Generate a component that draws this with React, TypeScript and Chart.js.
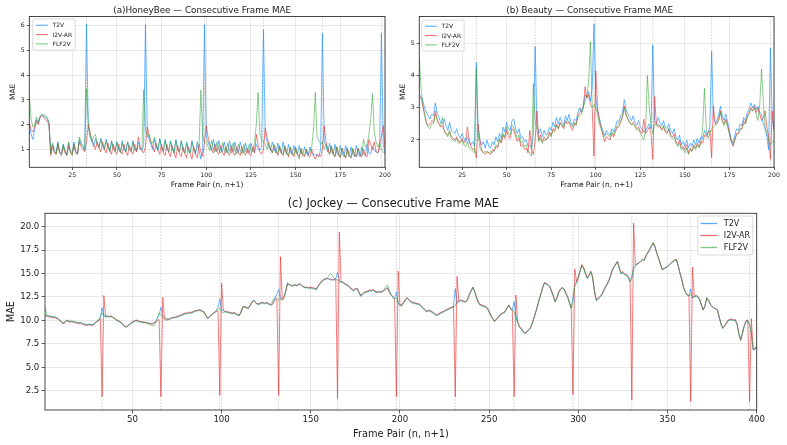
import React, { useEffect, useRef } from "react";
import { Chart, registerables } from "chart.js";

Chart.register(...registerables);

const FONT = '"DejaVu Sans", "Liberation Sans", sans-serif';
const TEXT = "#1a1a1a";

const seriesNames = ["T2V", "I2V-AR", "FLF2V"];
const seriesColors = ["rgba(30,144,255,0.75)", "rgba(235,50,50,0.7)", "rgba(44,160,44,0.6)"];

// ---- (a) HoneyBee: consecutive frame MAE, frame pairs 1..200 ----
const honeybeeT2V = [
  2.0, 1.6, 1.4, 1.8, 2.2, 2.05, 2.3, 2.4, 2.35, 2.3,
  2.25, 2.05, 0.85, 1.25, 0.95, 0.85, 1.3, 0.9, 0.85, 1.2,
  0.95, 0.8, 1.25, 0.95, 0.85, 1.3, 0.9, 0.85, 1.4, 1.2,
  1.1, 0.95, 6.08, 1.9, 1.5, 1.35, 1.1, 1.45, 1.2, 1.05,
  1.45, 1.15, 1.0, 1.4, 1.1, 0.95, 1.35, 1.05, 0.95, 1.3,
  1.0, 0.9, 1.35, 1.05, 0.9, 1.3, 1.0, 0.95, 1.35, 1.0,
  0.9, 1.3, 1.05, 0.95, 1.2, 6.05, 1.7, 1.4, 1.2, 1.0,
  1.4, 1.1, 0.95, 1.45, 1.05, 0.9, 1.4, 1.0, 0.9, 1.35,
  1.05, 0.85, 1.4, 1.0, 0.9, 1.35, 1.0, 0.85, 1.3, 0.95,
  0.85, 1.35, 1.0, 0.8, 1.3, 0.95, 0.6, 1.0, 6.05, 1.5,
  1.3, 1.1, 0.95, 1.4, 1.05, 0.9, 1.35, 1.0, 0.9, 1.3,
  1.0, 0.85, 1.35, 1.0, 0.9, 1.3, 0.95, 0.85, 1.3, 1.0,
  0.85, 1.25, 0.95, 0.85, 1.25, 0.95, 0.9, 1.2, 1.0, 0.95,
  1.1, 5.85, 1.6, 1.3, 1.1, 0.95, 1.3, 1.0, 0.85, 1.25,
  0.95, 0.85, 1.3, 0.95, 0.8, 1.2, 0.9, 0.8, 1.15, 0.9,
  0.8, 1.15, 0.85, 0.8, 1.1, 0.85, 0.75, 1.1, 0.85, 0.75,
  0.8, 0.75, 0.7, 1.0, 5.7, 1.3, 1.15, 0.9, 1.25, 0.9,
  0.8, 1.2, 0.85, 0.75, 1.15, 0.85, 0.7, 1.15, 0.85, 0.7,
  1.1, 0.8, 0.7, 1.15, 0.8, 0.7, 1.1, 0.8, 0.75, 1.2,
  0.85, 0.8, 1.1, 0.95, 0.9, 0.85, 1.0, 5.7, 1.2, 0.85,
];
const honeybeeI2VAR = [
  2.05, 1.8, 1.7, 1.9, 2.15, 2.0, 2.3, 2.35, 2.3, 2.2,
  2.15, 2.0, 0.75, 1.15, 0.85, 0.8, 1.2, 0.85, 0.75, 1.1,
  0.85, 0.75, 1.15, 0.85, 0.8, 1.2, 0.85, 0.8, 1.3, 1.1,
  1.0, 0.9, 1.3, 2.0, 1.7, 1.4, 1.2, 1.0, 1.3, 1.05,
  0.9, 1.3, 1.0, 0.85, 1.25, 0.95, 0.8, 1.2, 0.9, 0.8,
  1.2, 0.9, 0.8, 1.2, 0.9, 0.75, 1.15, 0.9, 0.8, 1.2,
  0.9, 1.5, 1.1, 0.95, 0.85, 1.1, 1.9, 1.6, 1.3, 1.1,
  0.9, 1.25, 0.95, 0.8, 1.2, 0.85, 0.75, 1.2, 0.85, 0.7,
  1.15, 0.85, 0.65, 1.15, 0.8, 0.7, 1.1, 0.8, 0.65, 1.1,
  0.8, 0.6, 1.1, 0.8, 0.65, 1.2, 0.9, 0.7, 1.3, 1.95,
  1.5, 1.2, 1.0, 0.85, 1.2, 0.9, 0.8, 1.15, 0.85, 0.75,
  1.1, 0.85, 0.75, 1.15, 0.85, 0.75, 1.1, 0.85, 0.75, 1.1,
  0.85, 0.75, 1.05, 0.8, 0.75, 1.1, 0.85, 1.6, 1.2, 0.9,
  0.8, 1.0, 1.85, 1.5, 1.2, 1.0, 0.85, 1.15, 0.9, 0.75,
  1.1, 0.85, 0.75, 1.1, 0.85, 0.7, 1.05, 0.8, 0.7, 1.05,
  0.8, 0.7, 1.0, 0.75, 0.7, 1.0, 0.75, 0.7, 1.0, 0.75,
  0.6, 0.8, 0.75, 0.7, 1.0, 1.95, 1.3, 1.05, 0.8, 1.1,
  0.8, 0.7, 1.1, 0.8, 0.65, 1.05, 0.8, 0.65, 1.05, 0.75,
  0.65, 1.0, 0.75, 0.7, 1.05, 0.75, 0.7, 1.0, 0.75, 0.7,
  1.4, 1.2, 1.0, 1.3, 0.9, 0.85, 1.2, 1.5, 1.95, 1.05,
];
const honeybeeFLF2V = [
  3.2, 2.2, 1.9, 2.0, 2.3, 2.1, 2.35, 2.4, 2.4, 2.35,
  2.3, 2.1, 0.8, 1.2, 0.9, 0.8, 1.25, 0.85, 0.8, 1.2,
  0.9, 0.75, 1.3, 0.9, 0.75, 1.2, 0.85, 0.8, 1.5, 1.3,
  1.15, 1.0, 3.45, 2.1, 1.6, 1.3, 1.5, 1.6, 1.25, 1.1,
  1.4, 1.2, 1.0, 1.35, 1.1, 0.9, 1.3, 1.05, 0.9, 1.3,
  1.05, 0.85, 1.25, 1.0, 0.9, 1.3, 1.0, 0.9, 1.3, 1.0,
  0.95, 1.1, 1.0, 1.05, 3.4, 1.8, 1.5, 1.6, 1.3, 1.25,
  1.5, 1.2, 1.0, 1.4, 1.1, 0.95, 1.35, 1.05, 0.9, 1.3,
  1.0, 0.85, 1.35, 1.0, 0.9, 1.3, 1.0, 0.85, 1.25, 0.95,
  0.85, 1.3, 1.0, 0.9, 1.1, 1.2, 3.4, 1.5, 1.3, 1.3,
  1.1, 0.95, 1.35, 1.05, 0.9, 1.3, 1.0, 0.85, 1.25, 1.0,
  0.85, 1.25, 0.95, 0.85, 1.25, 0.95, 0.8, 1.2, 0.95, 0.8,
  1.2, 0.9, 0.85, 1.2, 0.95, 0.9, 1.3, 2.0, 3.3, 1.6,
  1.4, 1.3, 1.2, 1.0, 1.25, 1.0, 0.85, 1.2, 0.95, 0.8,
  1.15, 0.9, 0.8, 1.15, 0.85, 0.75, 1.1, 0.85, 0.75, 1.1,
  0.8, 0.6, 1.05, 0.8, 0.75, 1.0, 0.8, 0.9, 1.1, 1.8,
  3.3, 1.5, 1.35, 1.2, 1.3, 1.0, 1.2, 0.9, 0.8, 1.15,
  0.85, 0.7, 1.1, 0.8, 0.7, 1.05, 0.8, 0.65, 1.0, 0.75,
  0.65, 1.05, 0.8, 0.7, 1.0, 0.8, 0.75, 1.4, 1.1, 1.2,
  1.6, 2.2, 3.25, 1.7, 1.3, 1.1, 1.25, 1.0, 0.9, 0.8,
];

// ---- (b) Beauty: consecutive frame MAE, frame pairs 1..200 ----
const beautyT2V = [
  3.4, 3.35, 3.2, 3.0, 2.85, 2.75, 2.65, 2.8, 2.75, 3.15,
  2.85, 2.7, 2.55, 2.5, 2.65, 2.45, 2.3, 2.55, 2.3, 2.25,
  2.2, 2.35, 2.15, 2.05, 2.2, 2.05, 1.95, 2.1, 1.9, 1.85,
  1.95, 1.8, 4.4, 2.3, 2.0, 1.85, 1.95, 1.75, 2.0, 1.8,
  1.75, 1.95, 1.85, 2.1, 1.95, 2.2, 2.05, 2.4, 2.25, 2.55,
  2.35, 2.3, 2.6, 2.65, 2.35, 2.2, 2.35, 2.05, 2.1, 1.95,
  2.0, 1.8, 1.85, 1.75, 2.2, 4.9, 2.5, 2.2, 2.35, 2.1,
  2.3, 2.15, 2.2, 2.4, 2.3, 2.55, 2.4, 2.7, 2.5, 2.7,
  2.55, 2.45, 2.75, 2.6, 2.8, 2.55, 2.45, 2.65, 2.6, 2.85,
  3.0, 2.85, 3.05, 3.4, 3.3, 3.5, 3.2, 3.6, 5.6, 3.3,
  2.9, 2.7, 2.45, 2.3, 2.15, 2.3, 2.2, 2.15, 2.35, 2.25,
  2.4, 2.6, 2.55, 2.75, 2.85, 3.25, 2.95, 2.8, 2.7, 2.6,
  2.75, 2.55, 2.45, 2.6, 2.4, 2.35, 2.25, 2.3, 2.4, 2.5,
  2.35, 4.95, 2.6, 2.5, 2.7, 2.55, 2.45, 2.6, 2.4, 2.35,
  2.5, 2.3, 2.2, 2.35, 2.1, 2.0, 2.15, 1.85, 1.95, 1.8,
  2.0, 1.75, 1.9, 1.8, 2.0, 1.85, 2.05, 1.9, 2.1, 2.05,
  2.3, 2.15, 2.25, 2.4, 4.75, 2.7, 2.55, 2.6, 2.8, 3.05,
  2.75, 2.6, 2.8, 2.55, 2.3, 2.0, 1.9, 2.15, 2.35, 2.3,
  2.5, 2.45, 2.7, 2.6, 2.85, 2.95, 3.15, 3.0, 3.1, 2.95,
  3.05, 2.85, 2.8, 2.5, 2.35, 2.1, 1.7, 4.85, 2.6, 2.35,
];
const beautyI2VAR = [
  3.35, 3.3, 3.05, 2.8, 2.55, 2.45, 2.5, 2.6, 2.55, 2.9,
  2.65, 2.5, 2.4, 2.45, 2.3, 2.2, 2.15, 2.25, 2.1, 2.05,
  2.0, 2.1, 1.95, 1.95, 2.05, 1.9, 2.0, 2.4, 2.0, 1.8,
  1.7, 1.75, 1.45, 2.5, 2.0, 1.7, 1.6, 1.55, 1.65, 1.6,
  1.55, 1.7, 1.65, 1.8, 1.75, 2.0, 1.9, 2.15, 2.05, 2.3,
  2.1, 2.05, 2.35, 2.3, 2.1, 1.95, 2.05, 1.8, 1.85, 1.7,
  1.75, 1.6, 2.3, 1.7, 1.55, 2.0, 2.9, 2.0, 2.15, 1.95,
  2.1, 2.0, 2.05, 2.25, 2.15, 2.35, 2.3, 2.5, 2.35, 2.55,
  2.45, 2.35, 2.6, 2.5, 2.55, 2.4, 2.3, 2.5, 2.5, 2.75,
  2.85, 2.95, 3.0, 3.65, 3.3, 3.4, 3.1, 3.0, 1.5, 4.15,
  3.0, 2.6, 2.4, 2.15, 1.95, 2.1, 2.05, 2.0, 2.2, 2.1,
  2.25, 2.4, 2.4, 2.55, 2.7, 3.05, 2.8, 2.65, 2.55, 2.5,
  2.55, 2.45, 2.35, 2.4, 2.25, 2.2, 2.65, 2.2, 2.3, 2.4,
  2.2, 1.4, 3.35, 2.5, 2.4, 2.45, 2.3, 2.4, 2.25, 2.2,
  2.35, 2.15, 2.1, 2.2, 1.95, 1.85, 2.0, 1.75, 1.8, 1.7,
  1.85, 1.6, 1.75, 1.65, 1.85, 1.75, 1.9, 1.8, 1.95, 1.9,
  2.15, 2.1, 2.2, 2.3, 1.45, 3.05, 2.5, 2.5, 2.65, 2.9,
  2.6, 2.5, 2.65, 2.45, 2.2, 1.95, 1.8, 2.0, 2.2, 2.2,
  2.35, 2.35, 2.6, 2.5, 2.75, 2.85, 3.0, 2.9, 3.05, 2.85,
  3.0, 2.8, 2.6, 2.7, 2.9, 2.4, 2.1, 1.4, 2.9, 2.3,
];
const beautyFLF2V = [
  4.55, 3.6, 3.1, 2.75, 2.5, 2.4, 2.35, 2.5, 2.5, 2.8,
  2.6, 2.5, 2.45, 2.7, 2.25, 2.2, 2.1, 2.3, 2.05, 2.0,
  1.95, 2.05, 1.9, 1.9, 2.0, 1.85, 1.8, 1.95, 1.75, 1.7,
  1.65, 1.6, 4.2, 2.2, 1.75, 1.65, 1.6, 1.65, 1.6, 1.6,
  1.65, 1.6, 1.7, 1.85, 1.8, 2.05, 1.95, 2.2, 2.1, 2.4,
  2.2, 2.15, 2.45, 2.4, 2.2, 2.05, 2.15, 1.9, 1.95, 1.8,
  1.85, 1.65, 1.6, 1.5, 3.75, 2.6, 2.3, 1.95, 2.05, 1.9,
  2.0, 2.0, 2.05, 2.2, 2.1, 2.3, 2.25, 2.45, 2.35, 2.5,
  2.45, 2.4, 2.55, 2.55, 2.6, 2.45, 2.4, 2.55, 2.45, 2.7,
  2.75, 2.8, 3.0, 3.2, 3.35, 3.8, 5.05, 3.0, 3.1, 3.0,
  2.8, 2.5, 2.35, 2.2, 2.1, 2.2, 2.15, 2.1, 2.25, 2.15,
  2.3, 2.45, 2.5, 2.6, 2.75, 3.0, 2.75, 2.65, 2.55, 2.45,
  2.5, 2.4, 2.3, 2.35, 2.2, 2.1, 2.0, 2.4, 4.0, 3.0,
  2.5, 2.2, 2.5, 2.45, 2.5, 2.4, 2.35, 2.45, 2.3, 2.25,
  2.35, 2.1, 2.05, 2.1, 1.9, 1.8, 1.9, 1.7, 1.75, 1.6,
  1.75, 1.55, 1.7, 1.65, 1.8, 1.7, 1.85, 1.75, 1.9, 2.4,
  3.6, 2.3, 2.05, 2.2, 2.35, 2.4, 2.45, 2.55, 2.6, 2.85,
  2.55, 2.45, 2.6, 2.4, 2.2, 1.95, 1.85, 2.0, 2.15, 2.2,
  2.3, 2.35, 2.5, 2.5, 2.7, 2.8, 2.95, 2.9, 3.0, 2.8,
  2.6, 3.1, 4.2, 3.2, 2.4, 2.2, 2.0, 1.85, 1.95, 1.95,
];

// ---- (c) Jockey: consecutive frame MAE, frame pairs 1..400 ----
const jockeyT2V = [
  10.55, 10.5, 10.45, 10.4, 10.4, 10.35, 10.3, 10.2, 10.05, 9.9,
  9.7, 9.75, 10.0, 9.95, 9.85, 9.9, 9.85, 9.8, 9.75, 9.7,
  9.75, 9.65, 9.6, 9.5, 9.55, 9.6, 9.5, 9.55, 9.7, 9.9,
  10.0, 10.3, 11.35, 10.6, 10.4, 10.45, 10.4, 10.45, 10.3, 10.2,
  10.05, 9.95, 9.85, 9.7, 9.5, 9.3, 9.35, 9.5, 9.65, 9.8,
  9.9, 10.0, 9.95, 9.9, 9.85, 9.8, 9.8, 9.75, 9.7, 9.7,
  9.65, 9.75, 9.85, 10.2, 10.6, 11.4, 10.5, 10.3, 10.2, 10.15,
  10.2, 10.3, 10.3, 10.35, 10.4, 10.45, 10.55, 10.6, 10.7, 10.75,
  10.75, 10.85, 10.8, 10.9, 11.0, 11.05, 11.1, 11.1, 11.0, 10.9,
  10.6, 10.2, 10.3, 10.5, 10.7, 10.85, 11.0, 11.4, 12.3, 11.2,
  11.0, 10.95, 10.9, 10.85, 10.8, 10.75, 10.8, 10.7, 10.6, 10.55,
  11.0, 11.5, 11.45, 11.35, 11.3, 11.6, 11.9, 12.2, 11.95, 11.8,
  11.75, 11.85, 11.9, 11.85, 11.9, 11.8, 11.7, 11.6, 11.9, 12.4,
  12.8, 13.3, 12.4, 12.2, 12.5, 13.2, 14.0, 13.85, 13.75, 13.7,
  13.8, 13.75, 13.85, 13.9, 13.7, 13.6, 13.5, 13.55, 13.45, 13.5,
  13.45, 13.4, 13.3, 13.6, 13.9, 14.1, 14.3, 14.4, 14.45, 14.4,
  14.35, 14.3, 14.4, 14.45, 15.15, 14.2, 14.1, 14.1, 13.95, 13.8,
  13.7, 13.5, 13.3, 13.2, 13.35, 13.4, 13.0, 12.6, 12.8, 12.95,
  13.05, 13.1, 13.2, 13.15, 13.25, 13.1, 13.0, 13.05, 13.05, 13.1,
  13.2, 13.4, 13.5, 13.0, 12.7, 12.5, 12.3, 13.05, 11.8, 11.6,
  11.6, 11.9, 12.2, 12.4, 12.2, 12.0, 11.9, 11.85, 11.8, 11.75,
  11.7, 11.5, 11.3, 11.1, 10.95, 11.05, 11.0, 10.9, 10.75, 10.6,
  10.6, 10.7, 10.8, 10.9, 11.0, 11.1, 11.2, 11.3, 11.4, 11.45,
  13.4, 11.8, 12.0, 12.2, 12.1, 12.0, 12.0, 12.3, 12.8, 13.2,
  13.5, 13.0, 12.4, 11.9, 11.65, 11.6, 11.5, 11.45, 11.3, 10.9,
  10.5, 10.2, 9.9, 10.1, 10.3, 10.55, 10.7, 10.8, 10.95, 11.3,
  11.6, 11.3, 11.1, 12.0, 10.5, 9.8, 9.3, 9.1, 8.85, 8.6,
  8.75, 8.95, 9.15, 9.6, 10.2, 10.8, 11.45, 12.2, 12.8, 13.5,
  14.0, 13.9, 13.8, 13.6, 13.1, 12.6, 12.0, 12.4, 13.0, 13.3,
  13.5, 13.3, 12.9, 12.5, 11.9, 11.3, 12.5, 13.8, 14.1, 14.6,
  15.3, 15.9, 15.6, 15.0, 14.5, 14.8, 15.2, 14.6, 13.2, 12.2,
  12.3, 12.5, 12.7, 13.1, 13.5, 13.8, 14.2, 14.7, 15.35, 15.7,
  16.0, 16.25, 15.5, 15.0, 15.1, 14.9, 14.85, 14.6, 14.1, 14.5,
  15.5, 15.8, 16.0, 16.1, 16.3, 16.45, 16.4, 16.9, 17.2, 17.5,
  17.9, 18.2, 17.8, 17.15, 16.6, 16.0, 15.4, 15.5, 15.6, 15.7,
  15.9, 16.1, 16.25, 16.4, 16.45, 15.8, 15.0, 14.3, 13.5, 13.0,
  12.7, 12.6, 13.35, 12.4, 12.5, 12.6, 12.5, 12.2, 11.6, 11.1,
  11.5, 12.35, 12.1, 11.7, 11.45, 11.3, 11.2, 11.1, 10.3, 9.6,
  9.15, 9.4, 9.7, 10.0, 10.05, 10.1, 10.0, 10.05, 9.6, 8.6,
  7.9, 8.6, 9.4, 9.9, 10.0, 9.5, 8.6, 6.85, 6.9, 7.2,
];
const jockeyI2VAR = [
  10.45, 10.45, 10.4, 10.35, 10.3, 10.3, 10.25, 10.15, 10.0, 9.85,
  9.65, 9.7, 9.95, 9.9, 9.8, 9.85, 9.8, 9.75, 9.7, 9.65,
  9.7, 9.6, 9.55, 9.45, 9.5, 9.55, 9.45, 9.5, 9.65, 9.85,
  9.95, 10.2, 1.85, 12.65, 10.45, 10.5, 10.4, 10.5, 10.35, 10.25,
  10.1, 10.0, 9.9, 9.75, 9.55, 9.3, 9.35, 9.55, 9.7, 9.85,
  9.95, 10.05, 10.0, 9.9, 9.85, 9.85, 9.8, 9.75, 9.7, 9.65,
  9.6, 9.7, 9.8, 9.95, 10.1, 1.85, 12.45, 10.2, 10.1, 10.1,
  10.15, 10.3, 10.35, 10.3, 10.45, 10.5, 10.55, 10.65, 10.75, 10.8,
  10.8, 10.9, 10.85, 10.95, 11.05, 11.05, 11.1, 11.15, 11.0, 10.95,
  10.65, 10.25, 10.3, 10.55, 10.65, 10.8, 10.95, 11.0, 2.0, 13.95,
  11.1, 10.95, 10.95, 10.9, 10.85, 10.8, 10.85, 10.75, 10.6, 10.6,
  10.95, 11.45, 11.5, 11.4, 11.3, 11.65, 11.95, 12.15, 11.9, 11.75,
  11.8, 11.9, 11.95, 11.8, 11.9, 11.85, 11.75, 11.65, 11.85, 12.2,
  12.3, 2.0, 16.8, 12.3, 12.4, 13.1, 13.95, 13.8, 13.7, 13.75,
  13.85, 13.7, 13.8, 13.95, 13.75, 13.6, 13.55, 13.5, 13.5, 13.55,
  13.5, 13.45, 13.35, 13.65, 13.95, 14.2, 14.35, 14.45, 14.5, 14.45,
  14.4, 14.35, 14.3, 14.4, 1.65, 19.45, 14.15, 14.05, 13.9, 13.85,
  13.75, 13.55, 13.35, 13.25, 13.4, 13.45, 13.05, 12.7, 12.85, 13.0,
  13.1, 13.15, 13.25, 13.2, 13.3, 13.15, 13.05, 13.1, 13.0, 13.05,
  13.15, 13.3, 13.45, 13.05, 12.75, 12.55, 12.25, 1.85, 15.25, 11.7,
  11.65, 11.95, 12.25, 12.45, 12.25, 12.05, 11.95, 11.9, 11.85, 11.8,
  11.75, 11.55, 11.35, 11.15, 11.0, 11.1, 11.05, 10.95, 10.8, 10.65,
  10.65, 10.75, 10.85, 10.95, 11.05, 11.15, 11.25, 11.35, 11.4, 11.5,
  1.85, 14.7, 12.0, 12.15, 12.1, 12.05, 12.0, 12.35, 12.85, 13.25,
  13.55, 13.05, 12.45, 11.95, 11.7, 11.65, 11.55, 11.5, 11.35, 10.95,
  10.55, 10.25, 9.95, 10.15, 10.35, 10.6, 10.75, 10.85, 11.0, 11.35,
  11.65, 11.35, 11.0, 1.85, 12.7, 9.85, 9.35, 9.15, 8.9, 8.65,
  8.8, 9.0, 9.2, 9.65, 10.25, 10.85, 11.5, 12.25, 12.85, 13.55,
  14.05, 13.95, 13.85, 13.65, 13.15, 12.65, 12.05, 12.45, 13.05, 13.35,
  13.55, 13.35, 12.95, 12.55, 11.95, 11.4, 2.05, 15.5, 14.15, 14.65,
  15.35, 15.95, 15.65, 15.05, 14.55, 14.85, 15.25, 14.65, 13.25, 12.25,
  12.35, 12.55, 12.75, 13.15, 13.55, 13.85, 14.25, 14.75, 15.4, 15.75,
  16.05, 16.3, 15.6, 15.1, 15.2, 15.0, 14.9, 14.7, 14.3, 1.5,
  20.4, 15.9, 16.05, 16.15, 16.35, 16.5, 16.45, 16.95, 17.25, 17.55,
  17.95, 18.25, 17.85, 17.2, 16.65, 16.05, 15.45, 15.55, 15.65, 15.75,
  15.95, 16.15, 16.3, 16.45, 16.5, 15.85, 15.05, 14.35, 13.55, 13.05,
  12.75, 12.65, 1.35, 15.7, 12.55, 12.65, 12.55, 12.25, 11.65, 11.15,
  11.55, 12.4, 12.15, 11.75, 11.5, 11.35, 11.25, 11.15, 10.35, 9.65,
  9.2, 9.45, 9.75, 10.05, 10.1, 10.15, 10.05, 10.1, 9.65, 8.65,
  7.95, 8.65, 9.45, 9.95, 10.05, 1.35, 10.2, 6.9, 6.95, 7.25,
];
const jockeyFLF2V = [
  11.45, 10.6, 10.5, 10.45, 10.4, 10.4, 10.35, 10.25, 10.1, 9.95,
  9.75, 9.8, 10.05, 10.0, 9.9, 9.95, 9.85, 9.85, 9.8, 9.75,
  9.8, 9.7, 9.6, 9.5, 9.55, 9.6, 9.55, 9.6, 9.75, 9.95,
  10.05, 10.35, 10.8, 10.5, 10.35, 10.4, 10.35, 10.4, 10.3, 10.15,
  10.0, 9.9, 9.8, 9.65, 9.45, 9.3, 9.35, 9.5, 9.6, 9.75,
  9.85, 9.95, 9.9, 9.85, 9.8, 9.75, 9.75, 9.7, 9.6, 9.55,
  9.5, 9.4, 9.75, 10.3, 10.8, 10.6, 10.3, 10.1, 10.0, 10.05,
  10.1, 10.25, 10.25, 10.3, 10.35, 10.4, 10.5, 10.55, 10.65, 10.7,
  10.7, 10.8, 10.75, 10.85, 10.95, 11.0, 11.05, 11.05, 10.95, 10.85,
  10.55, 10.3, 10.35, 10.55, 10.75, 10.9, 11.05, 11.2, 11.3, 10.9,
  10.85, 10.9, 10.85, 10.8, 10.75, 10.7, 10.75, 10.65, 10.55, 10.5,
  10.9, 11.4, 11.4, 11.3, 11.25, 11.55, 11.85, 12.1, 11.9, 11.7,
  11.7, 11.8, 11.85, 11.75, 11.85, 11.75, 11.65, 11.8, 12.3, 12.45,
  12.35, 12.2, 12.3, 12.15, 12.45, 13.15, 13.95, 13.8, 13.7, 13.65,
  13.75, 13.7, 13.8, 13.85, 13.65, 13.55, 13.45, 13.5, 13.4, 13.45,
  13.4, 13.35, 13.25, 13.55, 13.85, 14.05, 14.25, 14.35, 14.5, 14.7,
  15.0, 14.85, 14.5, 14.4, 14.3, 14.15, 14.05, 14.05, 13.9, 13.75,
  13.65, 13.45, 13.25, 13.15, 13.3, 13.35, 12.95, 12.55, 12.75, 12.9,
  13.0, 13.05, 13.15, 13.1, 13.2, 13.05, 12.95, 13.0, 13.0, 13.1,
  13.3, 13.6, 13.8, 13.2, 12.8, 12.5, 12.3, 12.4, 11.9, 11.55,
  11.55, 11.85, 12.15, 12.35, 12.15, 11.95, 11.85, 11.8, 11.75, 11.7,
  11.65, 11.45, 11.25, 11.05, 10.9, 11.0, 10.95, 10.85, 10.7, 10.55,
  10.55, 10.65, 10.75, 10.85, 10.95, 11.05, 11.15, 11.25, 11.35, 11.4,
  11.6, 11.9, 12.05, 12.15, 12.05, 11.95, 11.95, 12.25, 12.75, 13.2,
  13.55, 13.0, 12.35, 11.85, 11.6, 11.55, 11.45, 11.4, 11.25, 10.85,
  10.45, 10.15, 9.85, 10.05, 10.25, 10.5, 10.65, 10.75, 10.9, 11.25,
  11.55, 11.25, 11.05, 10.9, 10.3, 9.75, 9.25, 9.05, 8.8, 8.6,
  8.7, 8.9, 9.1, 9.55, 10.15, 10.75, 11.4, 12.15, 12.75, 13.45,
  14.0, 13.85, 13.75, 13.55, 13.05, 12.55, 11.95, 12.35, 12.95, 13.25,
  13.45, 13.25, 12.85, 12.45, 11.85, 11.3, 12.0, 13.6, 14.0, 14.55,
  15.25, 15.85, 15.55, 14.95, 14.45, 14.75, 15.15, 14.55, 13.15, 12.1,
  12.2, 12.45, 12.65, 13.05, 13.45, 13.75, 14.15, 14.65, 15.3, 15.65,
  15.95, 16.3, 15.45, 14.95, 15.05, 14.85, 14.8, 14.55, 14.2, 14.7,
  15.6, 15.85, 16.05, 16.15, 16.35, 16.5, 16.45, 16.95, 17.3, 17.6,
  18.0, 18.35, 17.9, 17.2, 16.65, 16.05, 15.45, 15.55, 15.65, 15.75,
  15.95, 16.15, 16.3, 16.45, 16.5, 15.85, 15.05, 14.35, 13.55, 13.05,
  12.75, 12.65, 12.8, 12.45, 12.55, 12.65, 12.55, 12.25, 11.65, 11.15,
  11.55, 12.45, 12.15, 11.75, 11.5, 11.35, 11.25, 11.15, 10.35, 9.6,
  9.15, 9.35, 9.65, 9.95, 10.0, 10.05, 9.95, 10.0, 9.55, 8.55,
  7.85, 8.55, 9.35, 9.85, 9.95, 9.6, 8.65, 6.95, 6.95, 7.25,
];

// Axis ticks and chunk boundaries (every 33 frame pairs)
const shortXTicks = [25, 50, 75, 100, 125, 150, 175, 200];
const longXTicks = [50, 100, 150, 200, 250, 300, 350, 400];
const honeybeeYTicks = [1, 2, 3, 4, 5, 6];
const beautyYTicks = [2, 3, 4, 5];
const jockeyYTicks = [2.5, 5, 7.5, 10, 12.5, 15, 17.5, 20];
const shortBoundaries = [33, 66, 99, 132, 165, 198];
const longBoundaries = [33, 66, 99, 132, 165, 198, 231, 264, 297, 330, 363, 396];

// ---- plugins ----
const boundaryPlugin = {
  id: "chunkBoundaries",
  beforeDatasetsDraw(chart: any, _a: any, opts: any) {
    const { ctx, chartArea } = chart;
    const xs = chart.scales.x;
    ctx.save();
    ctx.strokeStyle = "rgba(150,150,150,0.55)";
    ctx.lineWidth = 0.8;
    ctx.setLineDash([1.5, 1.5]);
    for (const v of opts.values || []) {
      const px = xs.getPixelForValue(v);
      ctx.beginPath();
      ctx.moveTo(px, chartArea.top);
      ctx.lineTo(px, chartArea.bottom);
      ctx.stroke();
    }
    ctx.restore();
  },
};

const framePlugin = {
  id: "plotFrame",
  afterDatasetsDraw(chart: any) {
    const { ctx, chartArea } = chart;
    ctx.save();
    ctx.strokeStyle = "#333";
    ctx.lineWidth = 0.9;
    ctx.strokeRect(chartArea.left, chartArea.top, chartArea.right - chartArea.left, chartArea.bottom - chartArea.top);
    ctx.restore();
  },
};

const legendPlugin = {
  id: "cornerLegend",
  afterDatasetsDraw(chart: any, _a: any, o: any) {
    const { ctx, chartArea } = chart;
    const ds = chart.data.datasets;
    ctx.save();
    ctx.font = `${o.fontSize}px ${FONT}`;
    const textW = Math.max(...ds.map((d: any) => ctx.measureText(d.label).width));
    const w = o.padX * 2 + o.lineLen + o.gap + textW;
    const h = o.padY * 2 + o.rowH * ds.length;
    const x0 = o.corner === "right" ? chartArea.right - o.inset - w : chartArea.left + o.inset;
    const y0 = chartArea.top + o.insetTop;
    const r = 2;
    ctx.beginPath();
    ctx.moveTo(x0 + r, y0);
    ctx.arcTo(x0 + w, y0, x0 + w, y0 + h, r);
    ctx.arcTo(x0 + w, y0 + h, x0, y0 + h, r);
    ctx.arcTo(x0, y0 + h, x0, y0, r);
    ctx.arcTo(x0, y0, x0 + w, y0, r);
    ctx.closePath();
    ctx.fillStyle = "rgba(255,255,255,0.85)";
    ctx.fill();
    ctx.strokeStyle = "#d0d0d0";
    ctx.lineWidth = 0.8;
    ctx.stroke();
    ctx.textBaseline = "middle";
    ctx.textAlign = "left";
    ds.forEach((d: any, i: number) => {
      const cy = y0 + o.padY + o.rowH * (i + 0.5);
      ctx.strokeStyle = d.borderColor;
      ctx.lineWidth = o.lineWidth;
      ctx.beginPath();
      ctx.moveTo(x0 + o.padX, cy);
      ctx.lineTo(x0 + o.padX + o.lineLen, cy);
      ctx.stroke();
      ctx.fillStyle = TEXT;
      ctx.fillText(d.label, x0 + o.padX + o.lineLen + o.gap, cy + 0.5);
    });
    ctx.restore();
  },
};

const titlePlugin = {
  id: "panelTitle",
  afterDraw(chart: any, _a: any, o: any) {
    const { ctx, chartArea } = chart;
    ctx.save();
    ctx.font = `${o.size}px ${FONT}`;
    ctx.fillStyle = TEXT;
    ctx.textAlign = "center";
    ctx.textBaseline = "middle";
    ctx.fillText(o.text, (chartArea.left + chartArea.right) / 2 + o.dx, o.y);
    ctx.restore();
  },
};

type Panel = {
  title: string;
  series: number[][];
  xMax: number;
  xTicks: number[];
  yMin: number;
  yMax: number;
  yTicks: number[];
  yDecimals: number;
  boundaries: number[];
  box: { left: number; top: number; width: number; height: number };
  plot: { left: number; top: number; right: number; bottom: number };
  titleSize: number;
  titleY: number;
  titleDx: number;
  labelSize: number;
  xLabelY: number;
  yLabelX: number;
  tickSize: number;
  tickLen: number;
  xTickPad: number;
  yTickPad: number;
  legend: any;
};

const panels: Panel[] = [
  {
    title: "(a)HoneyBee \u2014 Consecutive Frame MAE",
    series: [honeybeeT2V, honeybeeI2VAR, honeybeeFLF2V],
    xMax: 200, xTicks: shortXTicks,
    yMin: 0.27, yMax: 6.38, yTicks: honeybeeYTicks, yDecimals: 0,
    boundaries: shortBoundaries,
    box: { left: 0, top: 0, width: 393, height: 192 },
    plot: { left: 29.3, top: 16.5, right: 385, bottom: 167.3 },
    titleSize: 8.8, titleY: 10.7, titleDx: -5,
    labelSize: 7.45, xLabelY: 185, yLabelX: 13.3,
    tickSize: 6.2, tickLen: 2.6, xTickPad: 1.4, yTickPad: 2.0,
    legend: { corner: "left", fontSize: 6, rowH: 9.3, padX: 3, padY: 1.6, lineLen: 12, gap: 4.7, inset: 3.5, insetTop: 2.5, lineWidth: 1.1 },
  },
  {
    title: "(b) Beauty \u2014 Consecutive Frame MAE",
    series: [beautyT2V, beautyI2VAR, beautyFLF2V],
    xMax: 200, xTicks: shortXTicks,
    yMin: 1.153, yMax: 5.83, yTicks: beautyYTicks, yDecimals: 0,
    boundaries: shortBoundaries,
    box: { left: 393, top: 0, width: 394, height: 192 },
    plot: { left: 419.3, top: 16.5, right: 774, bottom: 167.3 },
    titleSize: 8.8, titleY: 10.7, titleDx: -7,
    labelSize: 7.45, xLabelY: 185, yLabelX: 403.3,
    tickSize: 6.2, tickLen: 2.6, xTickPad: 1.4, yTickPad: 2.0,
    legend: { corner: "left", fontSize: 6, rowH: 9.3, padX: 3, padY: 1.6, lineLen: 12, gap: 4.7, inset: 2.5, insetTop: 3.5, lineWidth: 1.1 },
  },
  {
    title: "(c) Jockey \u2014 Consecutive Frame MAE",
    series: [jockeyT2V, jockeyI2VAR, jockeyFLF2V],
    xMax: 400, xTicks: longXTicks,
    yMin: 0.44, yMax: 21.43, yTicks: jockeyYTicks, yDecimals: 1,
    boundaries: longBoundaries,
    box: { left: 0, top: 192, width: 787, height: 253 },
    plot: { left: 45, top: 213.3, right: 756.7, bottom: 410 },
    titleSize: 11.4, titleY: 204, titleDx: -7.5,
    labelSize: 9.8, xLabelY: 434, yLabelX: 11.2,
    tickSize: 8.6, tickLen: 3.5, xTickPad: 1.3, yTickPad: 2.2,
    legend: { corner: "right", fontSize: 8, rowH: 12, padX: 2.7, padY: 1.5, lineLen: 16.7, gap: 6.6, inset: 4, insetTop: 2.7, lineWidth: 1.3 },
  },
];

function PanelChart({ p }: { p: Panel }) {
  const ref = useRef<HTMLCanvasElement | null>(null);

  useEffect(() => {
    if (!ref.current) return;
    const { box, plot } = p;
    const yAxisWidth = plot.left - box.left;
    const xAxisHeight = box.top + box.height - plot.bottom;
    const labelLH = p.labelSize * 1.2;
    const xTitlePad = box.top + box.height - p.xLabelY - labelLH / 2;
    const yTitlePad = p.yLabelX - box.left - labelLH / 2;

    const datasets = p.series.map((vals, i) => ({
      label: seriesNames[i],
      data: vals.map((v, k) => ({ x: k + 1, y: v })),
      borderColor: seriesColors[i],
      borderWidth: 0.9,
      pointRadius: 0,
      tension: 0,
      fill: false,
      order: p.series.length - 1 - i,
    }));

    const zeroPad = (s: any) => {
      s.paddingLeft = 0;
      s.paddingRight = 0;
      s.paddingTop = 0;
      s.paddingBottom = 0;
    };

    const chart = new Chart(ref.current, {
      type: "line",
      data: { datasets },
      plugins: [boundaryPlugin, framePlugin, legendPlugin, titlePlugin],
      options: {
        responsive: false,
        animation: false,
        devicePixelRatio: 1,
        layout: {
          autoPadding: false,
          padding: { top: plot.top - box.top, right: box.left + box.width - plot.right, left: 0, bottom: 0 },
        },
        plugins: {
          legend: { display: false },
          tooltip: { enabled: false },
          title: { display: false },
          chunkBoundaries: { values: p.boundaries },
          cornerLegend: p.legend,
          panelTitle: { text: p.title, size: p.titleSize, y: p.titleY - box.top, dx: p.titleDx },
        },
        scales: {
          x: {
            type: "linear",
            min: 1,
            max: p.xMax,
            afterBuildTicks: (s: any) => {
              s.ticks = p.xTicks.map((v) => ({ value: v }));
            },
            afterFit: (s: any) => {
              s.height = xAxisHeight;
              zeroPad(s);
            },
            border: { display: false },
            grid: {
              color: "rgba(176,176,176,0.35)",
              lineWidth: 0.8,
              drawTicks: true,
              tickLength: p.tickLen,
              tickColor: "#333",
              tickWidth: 0.8,
            },
            ticks: {
              autoSkip: false,
              maxRotation: 0,
              padding: p.xTickPad,
              color: TEXT,
              font: { size: p.tickSize, family: FONT, lineHeight: 1.2 },
              callback: (v: any) => String(v),
            },
            title: {
              display: true,
              text: "Frame Pair (n, n+1)",
              color: TEXT,
              font: { size: p.labelSize, family: FONT, lineHeight: 1.2 },
              padding: { top: 0, bottom: xTitlePad },
            },
          },
          y: {
            type: "linear",
            min: p.yMin,
            max: p.yMax,
            afterBuildTicks: (s: any) => {
              s.ticks = p.yTicks.map((v) => ({ value: v }));
            },
            afterFit: (s: any) => {
              s.width = yAxisWidth;
              zeroPad(s);
            },
            border: { display: false },
            grid: {
              color: "rgba(176,176,176,0.35)",
              lineWidth: 0.8,
              drawTicks: true,
              tickLength: p.tickLen,
              tickColor: "#333",
              tickWidth: 0.8,
            },
            ticks: {
              padding: p.yTickPad,
              color: TEXT,
              font: { size: p.tickSize, family: FONT, lineHeight: 1.2 },
              callback: (v: any) => Number(v).toFixed(p.yDecimals),
            },
            title: {
              display: true,
              text: "MAE",
              color: TEXT,
              font: { size: p.labelSize, family: FONT, lineHeight: 1.2 },
              padding: { top: yTitlePad, bottom: 0 },
            },
          },
        },
      } as any,
    });
    return () => chart.destroy();
  }, [p]);

  return (
    <canvas
      ref={ref}
      width={p.box.width}
      height={p.box.height}
      style={{ position: "absolute", left: p.box.left, top: p.box.top, width: p.box.width, height: p.box.height }}
    />
  );
}

export default function App() {
  return (
    <div style={{ position: "fixed", left: 0, top: 0, width: 787, height: 445, background: "#fff", overflow: "hidden" }}>
      {panels.map((p, i) => (
        <PanelChart key={i} p={p} />
      ))}
    </div>
  );
}
